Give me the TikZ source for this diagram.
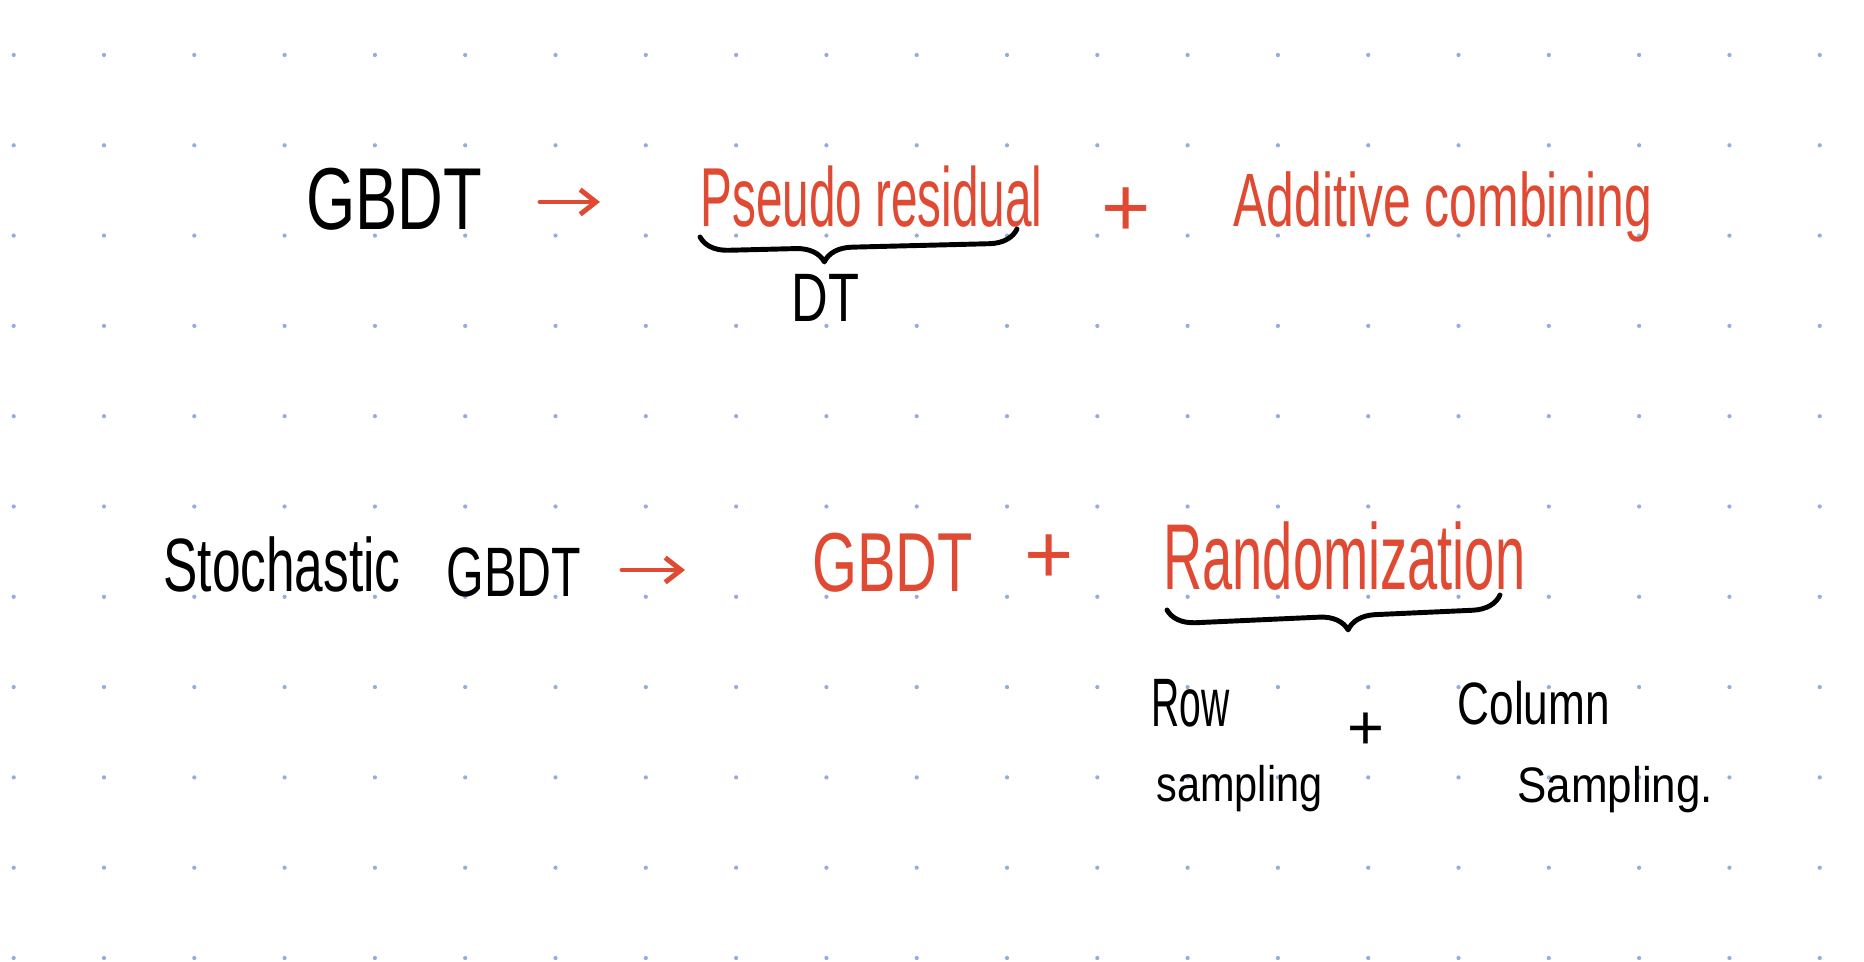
\documentclass[tikz,border=0pt]{standalone}
\usepackage{xcolor}
\usepackage{fontspec}
\setmainfont{Liberation Sans}
\usetikzlibrary{arrows.meta,decorations.pathreplacing}

\definecolor{notered}{RGB}{224,73,50}
\definecolor{griddot}{RGB}{150,172,222}
\newcommand{\penfont}[1]{\fontsize{#1}{#1}\selectfont}

\begin{document}
\begin{tikzpicture}[x=0.01cm, y=-0.01cm,
    hand/.style={inner sep=0pt, anchor=base west},
    ink/.style={hand, text=black},
    redink/.style={hand, text=notered},
    pen/.style={line width=1.4pt, line cap=round, line join=round},
    penarrow/.style={pen, notered, -{Straight Barb[length=4.5pt, width=7pt]}},
    curly/.style={pen, decorate, decoration={brace, mirror, amplitude=0.28cm, aspect=#1}}]
  \fill[white] (0,0) rectangle (1864,962);
  \useasboundingbox (0,0) rectangle (1864,962);
  % dotted paper
  \foreach \i in {0,...,20}{
    \foreach \j in {0,...,10}{
      \fill[griddot] ({13.7+90.3*\i},{55+90.3*\j}) circle (0.6pt);
    }
  }
  % First line
  \node[ink, font=\penfont{25}, xscale=.72] (gbdt) at (306,230) {GBDT};
  \node[redink, font=\penfont{23.8}, xscale=.57] (pseudo) at (700,227) {Pseudo residual};
  \node[redink, font=\penfont{24}] (plusA) at (1101,237) {+};
  \node[redink, font=\penfont{21.5}, xscale=.66] (additive) at (1233,227) {Additive combining};
  \coordinate (arrAs) at (540,202);
  \coordinate (arrAe) at (600,202);
  \draw[penarrow] (arrAs) -- (arrAe);
  \coordinate (braceAl) at (700,237);
  \coordinate (braceAr) at (1017,229);
  \draw[curly=0.39] (braceAl) -- (braceAr);
  \node[ink, font=\penfont{19.5}, xscale=.74] (dt) at (791,322) {DT};
  % Second line
  \node[ink, font=\penfont{21.5}, xscale=.68] (stoch) at (163,592) {Stochastic};
  \node[ink, font=\penfont{19.9}, xscale=.69] (sgbdt) at (446,597) {GBDT};
  \node[redink, font=\penfont{23.8}, xscale=.69] (rgbdt) at (812,592) {GBDT};
  \node[redink, font=\penfont{24}] (plusB) at (1024,584) {+};
  \node[redink, font=\penfont{26.6}, xscale=.58] (random) at (1163,590) {Randomization};
  \coordinate (arrBs) at (622,570);
  \coordinate (arrBe) at (685,570);
  \draw[penarrow] (arrBs) -- (arrBe);
  \coordinate (braceBl) at (1167,610);
  \coordinate (braceBr) at (1500,595);
  \draw[curly=0.54] (braceBl) -- (braceBr);
  % Row + Column sampling
  \node[ink, font=\penfont{19.5}, xscale=.57] (row) at (1151,727) {Row};
  \node[ink, font=\penfont{14.2}, xscale=.83] (rowsamp) at (1156,802) {sampling};
  \node[ink, font=\penfont{18}] (plusC) at (1347,750) {+};
  \node[ink, font=\penfont{17}, xscale=.74] (column) at (1457,725) {Column};
  \node[ink, font=\penfont{14.2}, xscale=.88] (colsamp) at (1517,803) {Sampling.};
\end{tikzpicture}
\end{document}
